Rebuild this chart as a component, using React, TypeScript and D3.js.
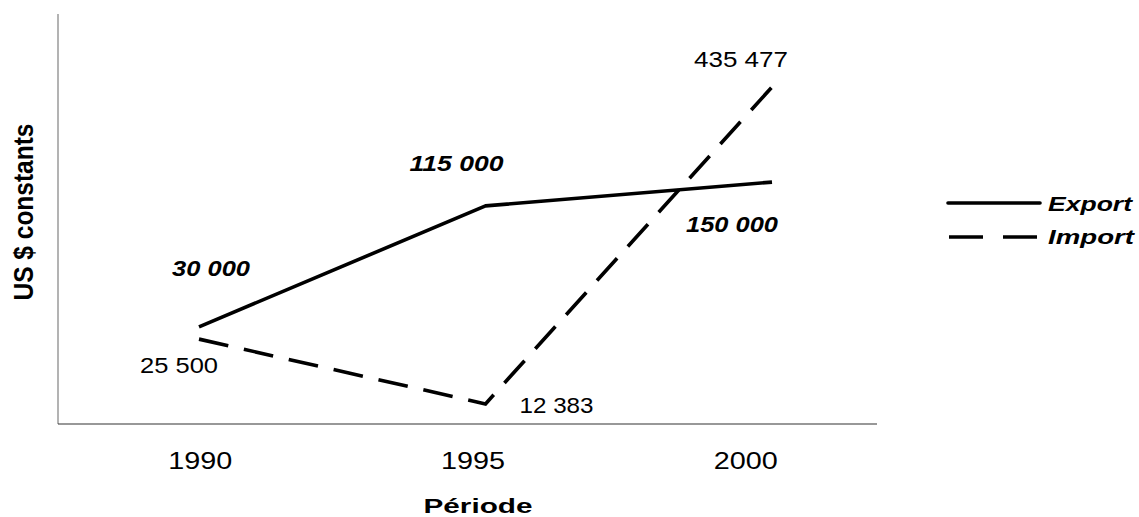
import React from "react";
import * as d3 from "d3";

// Periods on the x axis
const periods = ["1990", "1995", "2000"];
// Plotted heights (relative units, 0–100 of the plot height)
const exportPlot = [23.7, 53.2, 59.0];
const importPlot = [20.7, 4.9, 82.2];
// Data labels printed next to each point
const exportLabels = ["30 000", "115 000", "150 000"];
const importLabels = ["25 500", "12 383", "435 477"];
const seriesNames = ["Export", "Import"];

const W = 1139;
const H = 517;
const FONT = "'Liberation Sans', Arial, sans-serif";

export default function App() {
  const y = d3.scaleLinear().domain([0, 100]).range([424, 14]);
  const xPts = d3.scalePoint<string>().domain(periods).range([199, 772]);
  const xTicks = d3.scaleBand<string>().domain(periods).range([64, 882]);

  const line = d3
    .line<number>()
    .x((_, i) => xPts(periods[i]) as number)
    .y((d) => y(d));

  // label offsets (dx, dy baseline, textLength)
  const expOff = [
    [12, -51, 78],
    [-29, -35, 94],
    [-40, 50, 92],
  ];
  const impOff = [
    [-20, 34, 78],
    [71, 9, 74],
    [-31, -20, 94],
  ];

  return (
    <svg
      width={W}
      height={H}
      style={{ position: "absolute", left: 0, top: 0, background: "#fff" }}
      fontFamily={FONT}
    >
      {/* axes */}
      <line x1={58} x2={58} y1={14} y2={424} stroke="#808080" strokeWidth={1.2} />
      <line x1={58} x2={877} y1={424} y2={424} stroke="#333" strokeWidth={1.2} />

      {/* tick labels */}
      {periods.map((p) => (
        <text
          key={p}
          x={(xTicks(p) as number) + xTicks.bandwidth() / 2}
          y={469}
          fontSize={23.5}
          textAnchor="middle"
          textLength={64}
          lengthAdjust="spacingAndGlyphs"
          fill="#000"
        >
          {p}
        </text>
      ))}

      {/* axis titles */}
      <text
        x={478}
        y={513}
        fontSize={20}
        fontWeight="bold"
        textAnchor="middle"
        textLength={109}
        lengthAdjust="spacingAndGlyphs"
      >
        Période
      </text>
      <text
        transform="translate(33,212) rotate(-90)"
        fontSize={28}
        fontWeight="bold"
        textAnchor="middle"
        textLength={177}
        lengthAdjust="spacingAndGlyphs"
      >
        US $ constants
      </text>

      {/* series */}
      <path d={line(exportPlot) as string} fill="none" stroke="#000" strokeWidth={3.6} strokeLinejoin="round" />
      <path
        d={line(importPlot) as string}
        fill="none"
        stroke="#000"
        strokeWidth={3.6}
        strokeDasharray="30,16"
      />

      {/* data labels */}
      {exportLabels.map((t, i) => (
        <text
          key={"e" + i}
          x={(xPts(periods[i]) as number) + expOff[i][0]}
          y={y(exportPlot[i]) + expOff[i][1]}
          fontSize={22}
          fontWeight="bold"
          fontStyle="italic"
          textAnchor="middle"
          textLength={expOff[i][2]}
          lengthAdjust="spacingAndGlyphs"
        >
          {t}
        </text>
      ))}
      {importLabels.map((t, i) => (
        <text
          key={"i" + i}
          x={(xPts(periods[i]) as number) + impOff[i][0]}
          y={y(importPlot[i]) + impOff[i][1]}
          fontSize={22}
          textAnchor="middle"
          textLength={impOff[i][2]}
          lengthAdjust="spacingAndGlyphs"
        >
          {t}
        </text>
      ))}

      {/* legend */}
      <line x1={948} x2={1040} y1={203} y2={203} stroke="#000" strokeWidth={3.6} strokeLinecap="round" />
      <line x1={949} x2={1037} y1={237} y2={237} stroke="#000" strokeWidth={3.6} strokeDasharray="34,20" />
      <text
        x={1048}
        y={211}
        fontSize={19.5}
        fontWeight="bold"
        fontStyle="italic"
        textLength={84}
        lengthAdjust="spacingAndGlyphs"
      >
        {seriesNames[0]}
      </text>
      <text
        x={1048}
        y={244}
        fontSize={19.5}
        fontWeight="bold"
        fontStyle="italic"
        textLength={86}
        lengthAdjust="spacingAndGlyphs"
      >
        {seriesNames[1]}
      </text>
    </svg>
  );
}
